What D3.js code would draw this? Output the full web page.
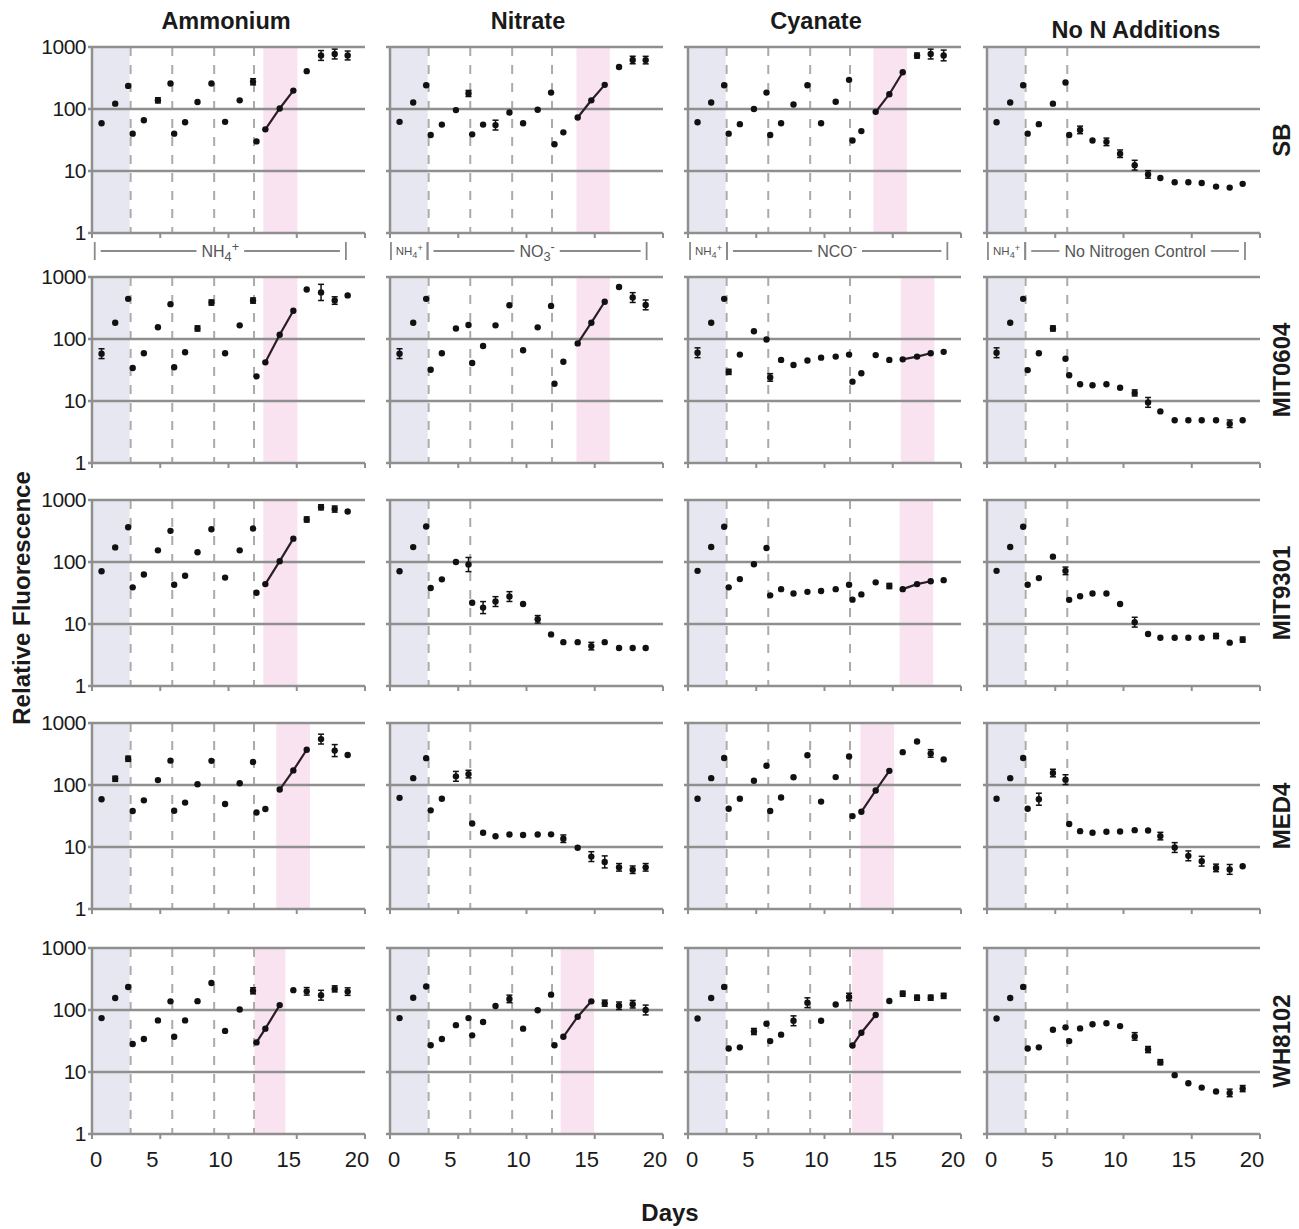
<!DOCTYPE html>
<html>
<head>
<meta charset="utf-8">
<script src="https://cdn.jsdelivr.net/npm/d3@7"></script>
<style>
  body { margin: 0; background: #fff; }
  text { font-family: "Liberation Sans", Arial, Helvetica, sans-serif; }
</style>
</head>
<body>
<div id="chart"></div>
<script>
// ---- data ----
const days = [0.7, 1.7, 2.65, 2.98, 3.8, 4.83, 5.75, 6.02, 6.82, 7.73, 8.75, 9.75, 10.82, 11.8, 12.05, 12.7, 13.75, 14.75, 15.73, 16.78, 17.78, 18.73];
const treatments = ["Ammonium", "Nitrate", "Cyanate", "No N Additions"];
const strains = ["SB", "MIT0604", "MIT9301", "MED4", "WH8102"];

const sbAmm = [59,122,236,40,66,138,258,40,61,130,258,62,138,275,30,47,102,198,408,730,770,730];
const sbNit = [62,127,242,38,56,96,178,39,56,55,88,59,97,184,27,42,73,138,245,475,617,615];
const sbCya = [61,127,242,40,57,100,184,38,59,118,242,59,131,295,31,44,90,173,392,727,770,730];
const sbNoN = [61,127,242,40,57,122,268,38,46,31,29.5,19,12.4,8.8,null,7.7,6.6,6.6,6.4,5.6,5.4,6.2];

const m0604Amm = [58,183,444,34,59,155,365,35,61,148,387,59,166,417,25,42,117,286,630,564,417,505];
const m0604Nit = [58,183,444,32,59,148,168,41,77,166,350,66,154,342,19,43,85,183,399,690,466,355];
const m0604Cya = [60,183,444,29.5,56,133,98,24,46,38,45,50,52,56,20.5,28,55,46,47,52,59,62];
const m0604NoN = [60,183,444,31.5,59,148,48,26,18.6,17.9,18.6,16.4,13.5,9.5,null,6.8,4.9,4.9,4.9,4.9,4.3,4.9];

const m9301Amm = [71,172,364,39,63,154,318,43,60,144,338,56,154,347,32,44,103,238,485,763,714,654];
const m9301Nit = [71,174,373,38,52.5,100,91,22,18.4,23,27.7,21,11.9,6.8,null,5.1,5.1,4.4,5.1,4.1,4.1,4.1];
const m9301Cya = [72,175,370,39,53,92,168,29,36.5,31,33,34,36.5,43,24.7,30,47,41,36.5,44,49,51];
const m9301NoN = [72,175,370,43,55,122,72,24.5,28,31,31,21,10.7,6.9,null,6.0,6.0,6.0,6.0,6.4,5.0,5.6];

const med4Amm = [59,126,265,38,56.6,120,247,38.5,52,103,245,49.5,107,235,36,41,84.5,172,370,550,359,305];
const med4Nit = [62,129,271,39,60,138,150,24,17,14.9,15.9,15.6,15.9,16,null,13.6,9.7,7.0,5.75,4.7,4.3,4.7];
const med4Cya = [60,129,272,41.5,60,117,204,38,63,133,302,54,134,288,31.5,37,81.5,169,339,502,323,259];
const med4NoN = [60,129,272,41.5,59,156,122,23.5,18,17,17.6,17.8,18.7,18.5,null,15,9.8,7.2,5.9,4.6,4.35,4.9];

const wh8102Amm = [74,156,235,28.3,34,68,138,37,68,139,272,46,102,204,30,50,120,209,200,173,219,198];
const wh8102Nit = [74,158,240,27,34,57,74,39,64,116,151,50,99,177,27,37,78,138,129,117,124,100];
const wh8102Cya = [73,156,236,24,25,45,60,31.5,40,67,131,67,123,162,26.7,43,83,140,183,158,158,169];
const wh8102NoN = [73,156,236,24,25,48,52.5,31.5,50.5,59,61,55,37.5,23,null,14.4,8.9,6.6,5.6,4.85,4.6,5.4];

// error bars: [point index, multiplicative spread]
const sbErr = [[[5,1.1],[13,1.12],[19,1.2],[20,1.2],[21,1.18]], [[6,1.12],[9,1.2],[20,1.15],[21,1.15]], [[19,1.1],[20,1.2],[21,1.22]], [[8,1.15],[10,1.15],[11,1.15],[12,1.2],[13,1.15]]];
const m0604Err = [[[0,1.2],[9,1.1],[10,1.1],[13,1.1],[19,1.35],[20,1.15]], [[0,1.2],[20,1.2],[21,1.2]], [[0,1.2],[3,1.1],[7,1.15]], [[0,1.2],[5,1.1],[12,1.12],[13,1.2],[20,1.15]]];
const m9301Err = [[[18,1.1],[19,1.1],[20,1.12]], [[6,1.3],[8,1.25],[9,1.2],[10,1.2],[12,1.15],[17,1.15]], [[17,1.1]], [[6,1.15],[12,1.2],[19,1.1],[21,1.1]]];
const med4Err = [[[1,1.1],[2,1.1],[19,1.2],[20,1.25]], [[5,1.2],[6,1.15],[15,1.15],[17,1.2],[18,1.25],[19,1.15],[20,1.15],[21,1.15]], [[20,1.15]], [[4,1.25],[5,1.15],[6,1.2],[15,1.15],[16,1.2],[17,1.2],[18,1.2],[19,1.15],[20,1.2]]];
const wh8102Err = [[[13,1.12],[18,1.15],[19,1.2],[20,1.12],[21,1.15]], [[10,1.15],[18,1.12],[19,1.15],[20,1.15],[21,1.2]], [[5,1.12],[9,1.2],[10,1.2],[13,1.15],[18,1.1],[19,1.1],[20,1.1],[21,1.1]], [[12,1.15],[13,1.12],[15,1.1],[20,1.15],[21,1.12]]];

// exponential-growth fit: first point index (three points), and shaded day range
const fitStart = [[15,16,16,null],[15,16,18,null],[15,null,18,null],[16,null,15,null],[14,15,14,null]];
const growthBands = [
  [[12.55,15.05],[13.66,16.1],[13.58,16.04],null],
  [[12.55,15.05],[13.66,16.1],[15.59,18.05],null],
  [[12.55,15.05],null,[15.5,17.96],null],
  [[13.5,15.97],null,[12.63,15.1],null],
  [[11.9,14.17],[12.5,14.95],[12.02,14.3],null]
];
const ammoniumPhase = [0, 2.76];
const transferDays = [2.83, 5.88, 8.95, 11.87];
const transfersUsed = [
  [[0,1,2,3],[0,1,2,3],[0,1,2,3],[0,1]],
  [[0,1,2,3],[0,1,2,3],[0,1,3],[0,1]],
  [[0,1,2,3],[0,1],[0,1,3],[0,1]],
  [[0,1,2,3],[0,1],[0,1,2,3],[0,1]],
  [[0,1,2,3],[0,1,2,3],[0,1,2,3],[0,1]]
];
const yTicks = [1, 10, 100, 1000];
const xTicks = [0, 5, 10, 15, 20];
const mediumLabels = [
  [{a:0.2, b:18.6, t:"NH4+"}],
  [{a:0.07, b:2.75, t:"NH4+", small:true}, {a:2.75, b:18.8, t:"NO3-"}],
  [{a:0.15, b:2.85, t:"NH4+", small:true}, {a:2.85, b:19.0, t:"NCO-"}],
  [{a:0.07, b:2.8, t:"NH4+", small:true}, {a:2.8, b:18.9, t:"No Nitrogen Control"}]
];

const panelValues = [
  [sbAmm, sbNit, sbCya, sbNoN],
  [m0604Amm, m0604Nit, m0604Cya, m0604NoN],
  [m9301Amm, m9301Nit, m9301Cya, m9301NoN],
  [med4Amm, med4Nit, med4Cya, med4NoN],
  [wh8102Amm, wh8102Nit, wh8102Cya, wh8102NoN]
];
const panelErr = [sbErr, m0604Err, m9301Err, med4Err, wh8102Err];

// ---- layout ----
const width = 1299, height = 1229;
const colX = [92, 390, 688, 987], panelW = 273;
const rowY = [47, 277, 500, 723, 948], panelH = 186;
const titleX = [226, 528, 816, 1136], titleY = [29, 29, 29, 38];
const grid = "#8f8f8f";

const svg = d3.select("#chart").append("svg")
  .attr("width", width).attr("height", height);

const x = d3.scaleLinear().domain([0, 20]).range([0, panelW]);
const y = d3.scaleLog().domain([1, 1000]).range([panelH, 0]);

// writes chemistry labels with sub/superscripts
function chem(sel, t, size) {
  const parts = {"NH4+": [["NH"],["4","sub"],["+","sup2"]], "NO3-": [["NO"],["3","sub"],["-","sup2"]], "NCO-": [["NCO"],["-","sup"]]}[t] || [[t]];
  parts.forEach(p => {
    const ts = sel.append("tspan").text(p[0]);
    if (p[1] === "sub") ts.attr("dy", size * 0.28).attr("font-size", size * 0.8);
    else if (p[1] === "sup") ts.attr("dy", -size * 0.38).attr("font-size", size * 0.8);
    else if (p[1] === "sup2") ts.attr("dy", -size * 0.66).attr("font-size", size * 0.8);
  });
}

panelValues.forEach((rowVals, r) => {
  rowVals.forEach((vals, c) => {
    const g = svg.append("g").attr("transform", "translate(" + colX[c] + "," + rowY[r] + ")");

    // shaded phases
    g.append("rect").attr("x", x(ammoniumPhase[0])).attr("y", 0)
      .attr("width", x(ammoniumPhase[1]) - x(ammoniumPhase[0])).attr("height", panelH)
      .attr("fill", "#e7e7f1");
    const band = growthBands[r][c];
    if (band) g.append("rect").attr("x", x(band[0])).attr("y", 0)
      .attr("width", x(band[1]) - x(band[0])).attr("height", panelH)
      .attr("fill", "#fae3f0");

    // transfer lines
    transfersUsed[r][c].forEach(i => {
      g.append("line").attr("x1", x(transferDays[i])).attr("x2", x(transferDays[i]))
        .attr("y1", y(1000)).attr("y2", y(1))
        .attr("stroke", "#ababab").attr("stroke-width", 2).attr("stroke-dasharray", "9,9");
    });

    // gridlines + axes
    yTicks.forEach(v => {
      g.append("line").attr("x1", -4).attr("x2", panelW).attr("y1", y(v)).attr("y2", y(v))
        .attr("stroke", grid).attr("stroke-width", 2.5);
    });
    g.append("line").attr("x1", 0).attr("x2", 0).attr("y1", y(1000) - 1).attr("y2", y(1) + 1)
      .attr("stroke", grid).attr("stroke-width", 2.5);
    xTicks.forEach(v => {
      g.append("line").attr("x1", x(v)).attr("x2", x(v)).attr("y1", y(1)).attr("y2", y(1) + 5)
        .attr("stroke", grid).attr("stroke-width", 2);
    });

    if (c === 0) {
      yTicks.forEach(v => {
        g.append("text").attr("x", -6).attr("y", y(v) + 7).attr("text-anchor", "end")
          .attr("font-size", 21).attr("fill", "#1a1a1a").attr("letter-spacing", -0.5).text(v);
      });
    }
    if (r === 4) {
      xTicks.forEach(v => {
        g.append("text").attr("x", x(v) + (v === 0 ? 4 : -8)).attr("y", panelH + 33)
          .attr("text-anchor", "middle").attr("font-size", 22).attr("fill", "#1a1a1a").text(v);
      });
    }

    const pts = days.map((d, i) => ({d: d, v: vals[i], i: i})).filter(p => p.v != null);

    // fitted growth line
    const fs = fitStart[r][c];
    if (fs != null) {
      g.append("path").datum(pts.filter(p => p.i >= fs && p.i <= fs + 2))
        .attr("d", d3.line().x(p => x(p.d)).y(p => y(p.v)))
        .attr("fill", "none").attr("stroke", "#2a1f25").attr("stroke-width", 2.2);
    }

    // error bars
    panelErr[r][c].forEach(e => {
      const p = pts.find(q => q.i === e[0]);
      if (!p) return;
      const y1 = y(p.v * e[1]), y2 = y(p.v / e[1]), xc = x(p.d);
      g.append("line").attr("x1", xc).attr("x2", xc).attr("y1", y1).attr("y2", y2)
        .attr("stroke", "#111").attr("stroke-width", 1.5);
      [y1, y2].forEach(yy => g.append("line").attr("x1", xc - 3).attr("x2", xc + 3)
        .attr("y1", yy).attr("y2", yy).attr("stroke", "#111").attr("stroke-width", 1.5));
    });

    g.selectAll("circle.pt").data(pts).enter().append("circle")
      .attr("class", "pt")
      .attr("cx", p => x(p.d)).attr("cy", p => y(p.v)).attr("r", 3.2)
      .attr("fill", "#111");
  });
});

// column titles
treatments.forEach((t, c) => {
  svg.append("text").attr("x", titleX[c]).attr("y", titleY[c]).attr("text-anchor", "middle")
    .attr("font-size", 23.5).attr("font-weight", "bold").attr("fill", "#1a1a1a").text(t);
});

// strain labels
strains.forEach((s, r) => {
  const cy = rowY[r] + panelH / 2;
  svg.append("text").attr("transform", "translate(1290," + cy + ") rotate(-90)")
    .attr("text-anchor", "middle").attr("font-size", 24).attr("font-weight", "bold")
    .attr("fill", "#1a1a1a").text(s);
});

// medium labels under the first row
const sepY = rowY[0] + panelH + 18;
mediumLabels.forEach((segs, c) => {
  const g = svg.append("g").attr("transform", "translate(" + colX[c] + "," + sepY + ")");
  segs.forEach(s => {
    const a = x(s.a), b = x(s.b);
    const size = s.small ? 11.5 : 16;
    [a, b].forEach(xx => g.append("line").attr("x1", xx).attr("x2", xx).attr("y1", -9).attr("y2", 9)
      .attr("stroke", "#8a8a8a").attr("stroke-width", 1.8));
    const txt = g.append("text").attr("x", (a + b) / 2).attr("y", size * 0.35)
      .attr("text-anchor", "middle").attr("font-size", size).attr("fill", "#555");
    chem(txt, s.t, size);
    if (!s.small) {
      const bb = txt.node().getBBox();
      g.append("line").attr("x1", a + 6).attr("x2", bb.x - 5).attr("y1", 0).attr("y2", 0)
        .attr("stroke", "#8a8a8a").attr("stroke-width", 1.8);
      g.append("line").attr("x1", bb.x + bb.width + 5).attr("x2", b - 6).attr("y1", 0).attr("y2", 0)
        .attr("stroke", "#8a8a8a").attr("stroke-width", 1.8);
    }
  });
});

// axis titles
svg.append("text").attr("transform", "translate(30,598) rotate(-90)")
  .attr("text-anchor", "middle").attr("font-size", 24).attr("font-weight", "bold")
  .attr("fill", "#1a1a1a").text("Relative Fluorescence");
svg.append("text").attr("x", 670).attr("y", 1221).attr("text-anchor", "middle")
  .attr("font-size", 24).attr("font-weight", "bold").attr("fill", "#1a1a1a").text("Days");
</script>
</body>
</html>
